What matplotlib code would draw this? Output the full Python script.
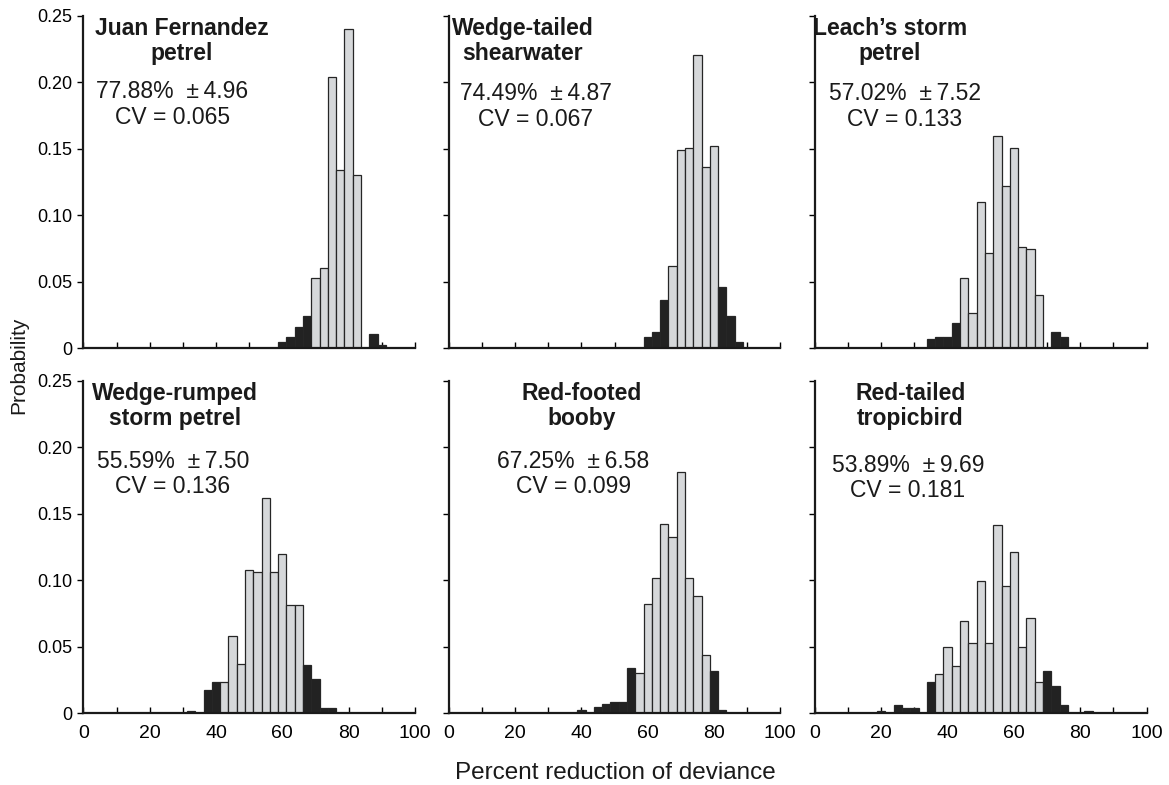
import matplotlib
matplotlib.use('Agg')
import matplotlib.pyplot as plt
import numpy as np

plt.rcParams['font.family'] = ['Liberation Sans', 'DejaVu Sans']

BIN = 2.5

# first bin centre, probabilities of consecutive 2.5-wide bins, and the shaded (grey) range
jfp_start = 60
jfp_probs = [0.005, 0.0083, 0.0162, 0.0245, 0.0526, 0.0608, 0.2044, 0.1344, 0.2402, 0.1303, 0.0, 0.0105, 0.0025]
jfp_grey = (70, 82.5)

wts_start = 60
wts_probs = [0.0083, 0.0125, 0.0365, 0.0621, 0.1489, 0.1509, 0.221, 0.1366, 0.1522, 0.0463, 0.0245, 0.0045]
wts_grey = (67.5, 80)

lsp_start = 35
lsp_probs = [0.0068, 0.0083, 0.0083, 0.0188, 0.0528, 0.0263, 0.1101, 0.0721, 0.160, 0.1221, 0.151, 0.0763, 0.0746, 0.0405, 0.0, 0.0125, 0.0083]
lsp_grey = (45, 67.5)

wrsp_start = 32.5
wrsp_probs = [0.0018, 0.0, 0.018, 0.0238, 0.0238, 0.058, 0.0375, 0.1076, 0.1064, 0.162, 0.1064, 0.1201, 0.0818, 0.0818, 0.0363, 0.0263, 0.0043, 0.0043]
wrsp_grey = (42.5, 65)

rfb_start = 40
rfb_probs = [0.0023, 0.0, 0.0048, 0.0068, 0.0083, 0.0083, 0.0343, 0.0305, 0.0826, 0.1021, 0.1421, 0.1324, 0.1815, 0.1021, 0.0881, 0.0443, 0.032, 0.0023]
rfb_grey = (57.5, 77.5)

rtt_start = 20
rtt_probs = [0.0018, 0.0, 0.0063, 0.0038, 0.0038, 0.0, 0.0238, 0.030, 0.050, 0.036, 0.0696, 0.053, 0.0996, 0.053, 0.1419, 0.0958, 0.1214, 0.0498, 0.0718, 0.0235, 0.0318, 0.0205, 0.0065, 0.0, 0.0, 0.0018]
rtt_grey = (37.5, 67.5)

names = ["Juan Fernandez\npetrel", "Wedge-tailed\nshearwater", "Leach\u2019s storm\npetrel",
         "Wedge-rumped\nstorm petrel", "Red-footed\nbooby", "Red-tailed\ntropicbird"]
means = ["77.88%", "74.49%", "57.02%", "55.59%", "67.25%", "53.89%"]
sds = ["4.96", "4.87", "7.52", "7.50", "6.58", "9.69"]
cvs = ["0.065", "0.067", "0.133", "0.136", "0.099", "0.181"]

panels = [(jfp_start, jfp_probs, jfp_grey), (wts_start, wts_probs, wts_grey),
          (lsp_start, lsp_probs, lsp_grey), (wrsp_start, wrsp_probs, wrsp_grey),
          (rfb_start, rfb_probs, rfb_grey), (rtt_start, rtt_probs, rtt_grey)]

# text anchor positions in axes fraction (title centre x, stats centre x, stats top y)
title_x = [0.298, 0.222, 0.225, 0.277, 0.40, 0.287]
stats_x = [0.268, 0.263, 0.27, 0.27, 0.375, 0.28]
stats_y = [0.806, 0.80, 0.80, 0.792, 0.792, 0.78]

fig = plt.figure(figsize=(11.69, 7.85), dpi=100)
lefts = [0.0713, 0.3839, 0.6972]
bottoms = [0.5561, 0.0911]
w, h = 0.2836, 0.4236

for i, (start, probs, grey) in enumerate(panels):
    r, c = divmod(i, 3)
    ax = fig.add_axes([lefts[c], bottoms[r], w, h])
    probs = np.array(probs)
    centers = start + BIN * np.arange(len(probs))
    keep = probs > 0
    centers, probs = centers[keep], probs[keep]
    is_grey = (centers >= grey[0] - 0.01) & (centers <= grey[1] + 0.01)
    colors = np.where(is_grey, '#d6d8da', '#222222')
    ax.bar(centers, probs, width=BIN, color=colors, edgecolor='#262626', linewidth=0.9, zorder=2)

    ax.set_xlim(0, 100)
    ax.set_ylim(0, 0.25)
    for s in ['top', 'right']:
        ax.spines[s].set_visible(False)
    for s in ['left', 'bottom']:
        ax.spines[s].set_linewidth(1.6)
        ax.spines[s].set_color('#1a1a1a')
        ax.spines[s].set_zorder(3)

    ax.set_xticks(np.arange(0, 101, 10))
    ax.set_yticks([0, 0.05, 0.10, 0.15, 0.20, 0.25])
    ax.tick_params(axis='x', direction='in', length=4, width=1, labelsize=14, pad=8)
    ax.tick_params(axis='y', direction='out', length=4, width=1, labelsize=13, pad=4)
    if r == 1:
        ax.set_xticklabels([str(v) if v % 20 == 0 else '' for v in range(0, 101, 10)])
    else:
        ax.set_xticklabels([])
    if c == 0:
        ax.set_yticklabels(['0', '0.05', '0.10', '0.15', '0.20', '0.25'])
    else:
        ax.set_yticklabels([])

    ax.text(title_x[i], 0.997, names[i], transform=ax.transAxes, ha='center', va='top',
            fontsize=16.5, fontweight='bold', linespacing=1.12, color='#1a1a1a')
    ax.text(stats_x[i], stats_y[i], f"{means[i]}  \u00b1\u2009{sds[i]}\nCV = {cvs[i]}",
            transform=ax.transAxes, ha='center', va='top', fontsize=16.5,
            linespacing=1.12, color='#1a1a1a')

fig.text(0.016, 0.535, 'Probability', rotation=90, ha='center', va='center', fontsize=15, color='#1a1a1a')
fig.text(0.526, 0.0153, 'Percent reduction of deviance', ha='center', va='center', fontsize=17.5, color='#1a1a1a')

fig.savefig('out.png', dpi=100)
